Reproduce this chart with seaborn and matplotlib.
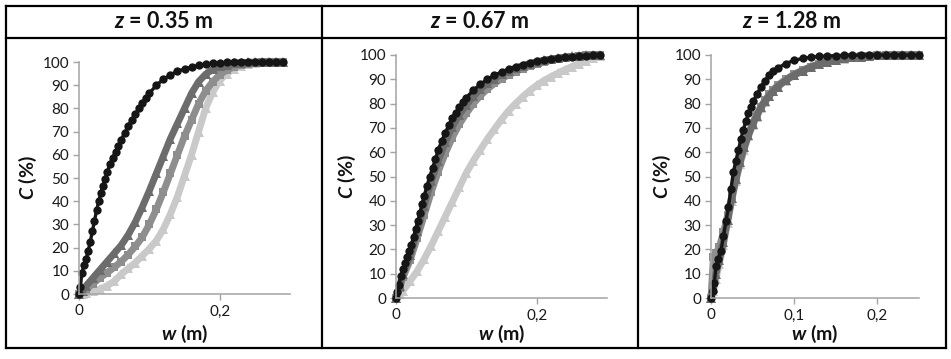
import matplotlib
matplotlib.use("Agg")
import matplotlib.pyplot as plt
from matplotlib.lines import Line2D
import seaborn as sns

# ---------------------------------------------------------------- data
titles = ["0.35", "0.67", "1.28"]

# z = 0.35 m : grey series share one w grid, the black series has its own
w_035 = [0, 0.005, 0.01, 0.02, 0.03, 0.04, 0.05, 0.06, 0.07, 0.08, 0.09, 0.10,
         0.11, 0.12, 0.13, 0.14, 0.15, 0.16, 0.17, 0.18, 0.19, 0.20, 0.21, 0.22,
         0.23, 0.24, 0.25, 0.26, 0.27, 0.28, 0.29]
wb_035 = [0, 0.002, 0.004, 0.007, 0.01, 0.013, 0.016, 0.019, 0.022, 0.025, 0.028, 0.031,
          0.034, 0.037, 0.04, 0.044, 0.048, 0.052, 0.056, 0.06, 0.065, 0.07, 0.075, 0.08,
          0.085, 0.09, 0.095, 0.10, 0.11, 0.12, 0.13, 0.14, 0.15, 0.16, 0.17, 0.18, 0.19,
          0.20, 0.21, 0.22, 0.23, 0.24, 0.25, 0.26, 0.27, 0.28, 0.29]
black_035 = [0, 3, 9, 12.5, 15, 18.5, 22.5, 27, 31.5, 36, 40, 43.5, 46.5, 49.5, 52.5, 56,
             58.8, 61.3, 63.8, 66.5, 69.5, 72.5, 75, 77.5, 80, 82.5, 84.5, 86.5, 90, 92.5,
             94.5, 96, 97, 97.8, 98.5, 99, 99.4, 99.6, 99.8, 99.9, 100, 100, 100, 100, 100,
             100, 100]
dark_035 = [0, 1.5, 3.5, 7, 10.5, 14, 17.5, 21, 25.5, 31, 37.5, 44.5, 52, 59.5, 67,
            73.5, 80, 86.5, 91.5, 94.7, 96.8, 98.1, 98.9, 99.4, 99.7, 99.85, 99.95, 100,
            100, 100, 100]
mid_035 = [0, 0.8, 2, 4.5, 7, 9.2, 11.5, 14, 17, 20.5, 24.5, 30, 36.5, 44, 52, 60, 68,
           75, 82, 87.5, 91.5, 94.5, 96.5, 97.8, 98.7, 99.2, 99.6, 99.8, 99.9, 100, 100]
light_035 = [0, 0.2, 0.5, 1.2, 2.2, 3.5, 5.5, 8.5, 11, 13.5, 16.5, 19.5, 23, 28, 34.5,
             42, 51, 60, 70, 80, 87, 92, 95, 97, 98.3, 99.1, 99.6, 99.8, 99.9, 100, 100]

# z = 0.67 m
w_067 = list(w_035)
wb_067 = list(wb_035)
black_067 = [0, 2.5, 5.5, 9, 12, 14.5, 17, 19.5, 22, 25, 28.5, 31.5, 35, 38.5, 42, 46,
             50, 53.5, 57, 61, 64.5, 68, 71, 74, 76.3, 78.5, 80.5, 82.5, 85.5, 88, 90,
             91.7, 93, 94.2, 95.2, 96, 96.8, 97.4, 97.9, 98.3, 98.7, 99, 99.3, 99.5, 99.7,
             99.9, 100]
dark_067 = [0, 5, 10, 17.5, 27.5, 38, 48, 56.5, 64, 70.5, 75.5, 79.5, 83, 86, 88.3, 90.3,
            92, 93.4, 94.6, 95.6, 96.5, 97.2, 97.8, 98.3, 98.7, 99.1, 99.4, 99.6, 99.8,
            99.9, 100]
mid_067 = [0, 4, 8.5, 15.5, 24.5, 34, 43.5, 52, 59.5, 66, 71.5, 76, 80, 83.3, 86, 88.3,
           90.2, 91.8, 93.2, 94.4, 95.4, 96.3, 97.1, 97.8, 98.4, 98.9, 99.3, 99.6, 99.8,
           99.9, 100]
light_067 = [0, 1.5, 3, 7, 11, 16, 21.5, 27.5, 33.5, 39.5, 45.5, 51.5, 56.5, 61, 65.5,
             69.5, 73.5, 77, 80, 82.8, 85.3, 87.5, 89.4, 91, 92.5, 93.9, 95.2, 96.4, 97.5,
             98.6, 99.6]

# z = 1.28 m
w_128 = [0, 0.003, 0.006, 0.01, 0.015, 0.02, 0.025, 0.03, 0.035, 0.04, 0.045, 0.05,
         0.055, 0.06, 0.065, 0.07, 0.075, 0.08, 0.09, 0.10, 0.11, 0.12, 0.13, 0.14,
         0.15, 0.16, 0.17, 0.18, 0.19, 0.20, 0.21, 0.22, 0.23, 0.24, 0.25]
wb_128 = [0, 0.002, 0.004, 0.006, 0.009, 0.012, 0.015, 0.018, 0.021, 0.024, 0.027, 0.030,
          0.033, 0.036, 0.039, 0.042, 0.045, 0.048, 0.051, 0.055, 0.06, 0.065, 0.07,
          0.075, 0.08, 0.09, 0.10, 0.11, 0.12, 0.13, 0.14, 0.15, 0.16, 0.17, 0.18, 0.19,
          0.20, 0.21, 0.22, 0.23, 0.24, 0.25]
black_128 = [0, 3, 6, 13, 16, 19.5, 25.5, 31.5, 37.5, 45, 52, 56.5, 61, 65.5, 69.3, 72.8,
             76, 78.8, 81, 83.8, 86.8, 89.5, 91.7, 93.3, 94.6, 96.5, 97.8, 98.6, 99.1, 99.4,
             99.6, 99.75, 99.85, 99.9, 100, 100, 100, 100, 100, 100, 100, 100]
dark_128 = [0, 4, 10, 15.5, 23, 32, 41, 49, 56, 62, 67, 71.5, 75, 78.5, 81, 83.3, 85.3,
            87, 89.6, 91.8, 93.5, 95, 96.2, 97.2, 98, 98.6, 99, 99.3, 99.6, 99.8, 99.9,
            100, 100, 100, 100]
mid_128 = [0, 17, 18.5, 21, 27, 34, 42, 49.5, 56.5, 62.5, 67.5, 72, 75.5, 78.8, 81.5,
           83.8, 85.8, 87.5, 90, 92.1, 93.8, 95.2, 96.4, 97.3, 98.1, 98.7, 99.1, 99.4,
           99.6, 99.8, 99.9, 100, 100, 100, 100]
light_128 = [0, 3, 8, 14, 22, 31, 40, 48, 55, 61, 66.5, 71, 74.5, 78, 80.5, 83, 85, 86.8,
             89.4, 91.6, 93.4, 94.9, 96.1, 97.1, 97.9, 98.5, 99, 99.3, 99.6, 99.8, 99.9,
             100, 100, 100, 100]

x_ticks_035 = [0, 0.2]
x_ticks_067 = [0, 0.2]
x_ticks_128 = [0, 0.1, 0.2]
x_ticklabels_035 = ["0", "0,2"]
x_ticklabels_067 = ["0", "0,2"]
x_ticklabels_128 = ["0", "0,1", "0,2"]
y_ticks = list(range(0, 101, 10))

# ---------------------------------------------------------------- style
sns.set_theme(style="white")
plt.rcParams["font.family"] = ["Lato", "DejaVu Sans"]
plt.rcParams["mathtext.fontset"] = "custom"
plt.rcParams["mathtext.rm"] = "Lato"
plt.rcParams["mathtext.it"] = "Lato:italic"
plt.rcParams["mathtext.bf"] = "Lato:bold"
plt.rcParams["mathtext.bfit"] = "Lato:italic:bold"

W, H = 951, 359
fig = plt.figure(figsize=(W / 100, H / 100), dpi=100)
fig.patch.set_facecolor("white")


def box(left, top, right, bottom):
    return [left / W, 1 - bottom / H, (right - left) / W, (bottom - top) / H]


def fx(px):
    return px / W


def fy(py):
    return 1 - py / H


# table frame
frame_lw = 1.6
for (x0, y0, x1, y1) in [(6, 6, 946, 6), (6, 38, 946, 38), (6, 348, 946, 348),
                         (6, 6, 6, 348), (322, 6, 322, 348), (638, 6, 638, 348),
                         (946, 6, 946, 348)]:
    fig.add_artist(Line2D([fx(x0), fx(x1)], [fy(y0), fy(y1)], transform=fig.transFigure,
                          color="black", lw=frame_lw, solid_capstyle="projecting"))

panels = [
    dict(title=titles[0], w=w_035, wb=wb_035, grey=[light_035, mid_035, dark_035],
         black=black_035, xmax=0.3, ticks=x_ticks_035, ticklabels=x_ticklabels_035,
         rect=(79, 62, 290, 294), head_x=164, ylab_x=28),
    dict(title=titles[1], w=w_067, wb=wb_067, grey=[light_067, mid_067, dark_067],
         black=black_067, xmax=0.3, ticks=x_ticks_067, ticklabels=x_ticklabels_067,
         rect=(396, 55, 607, 298), head_x=480, ylab_x=347),
    dict(title=titles[2], w=w_128, wb=wb_128, grey=[light_128, mid_128, dark_128],
         black=black_128, xmax=0.25, ticks=x_ticks_128, ticklabels=x_ticklabels_128,
         rect=(711, 55, 919, 298), head_x=792, ylab_x=662),
]

grey_styles = [
    dict(color="#c9c9c9", marker="^", markersize=6.5, markeredgewidth=0, lw=5),
    dict(color="#8e8e8e", marker="s", markersize=5.5, markeredgewidth=0, lw=5),
    dict(color="#6c6c6c", marker="^", markersize=6.5, markeredgewidth=0, lw=5),
]
black_style = dict(color="#161616", marker="o", markersize=6, markeredgewidth=0, lw=2.4)

axis_gray = "#a3a3a3"
for p in panels:
    l, t, r, b = p["rect"]
    ax = fig.add_axes(box(l, t, r, b))
    for vals, st in zip(p["grey"], grey_styles):
        sns.lineplot(x=p["w"], y=vals, ax=ax, clip_on=False, **st)
    sns.lineplot(x=p["wb"], y=p["black"], ax=ax, clip_on=False, **black_style)
    ax.set_xlim(0, p["xmax"])
    ax.set_ylim(0, 100)
    ax.set_yticks(y_ticks)
    ax.set_yticklabels([str(v) for v in y_ticks])
    ax.set_xticks(p["ticks"])
    ax.set_xticklabels(p["ticklabels"])
    for side in ("top", "right"):
        ax.spines[side].set_visible(False)
    for side in ("left", "bottom"):
        ax.spines[side].set_color(axis_gray)
        ax.spines[side].set_linewidth(1.1)
    ax.tick_params(axis="both", direction="out", length=4.5, width=1.0, color=axis_gray,
                   labelsize=11, labelcolor="#1a1a1a", pad=2.5, left=True, bottom=True)
    ax.tick_params(axis="x", pad=3)
    ax.set_xlabel("")
    ax.set_ylabel("")
    ax.grid(False)
    ax.set_facecolor("none")

    fig.text(fx(p["head_x"]), fy(22), r"$\mathbfit{z}$ = " + p["title"] + " m",
             ha="center", va="center", fontsize=15.5, fontweight="bold", color="#111111")
    fig.text(fx(p["ylab_x"]), fy((t + b) / 2), r"$\mathbfit{C}$ (%)", rotation=90,
             ha="center", va="center", fontsize=14, fontweight="bold", color="#111111")
    fig.text(fx((l + r) / 2), fy(334), r"$\mathbfit{w}$ (m)", ha="center", va="center",
             fontsize=14, fontweight="bold", color="#111111")

fig.savefig("out.png", dpi=100, facecolor="white")
